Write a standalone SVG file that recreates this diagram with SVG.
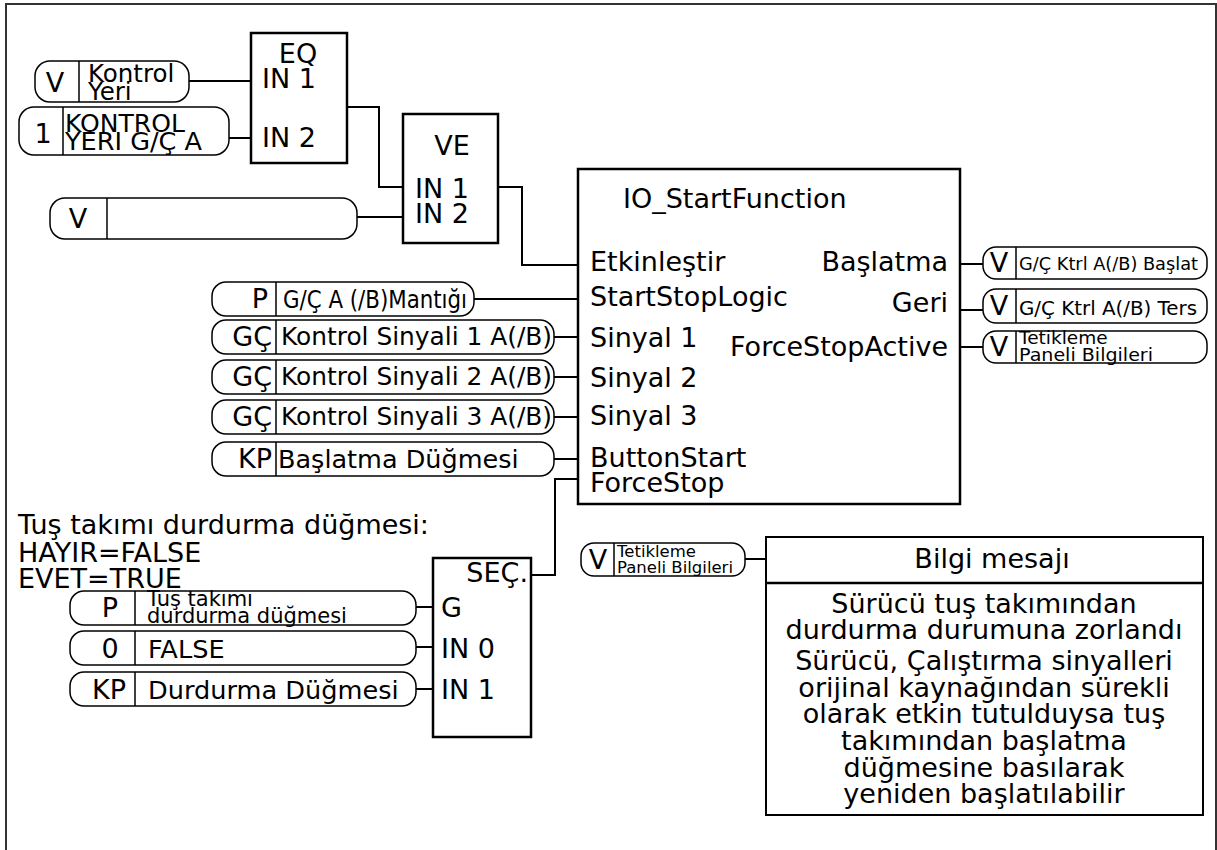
<svg xmlns="http://www.w3.org/2000/svg" width="1217" height="850" viewBox="0 0 1217 850">
<style>
text{font-family:"DejaVu Sans","Liberation Sans",sans-serif;fill:#000;}
.b{fill:#fff;stroke:#000;stroke-width:2.5;}
.p{fill:#fff;stroke:#000;stroke-width:1.5;}
.d{stroke:#000;stroke-width:1.5;}
.c{fill:none;stroke:#000;stroke-width:2;}
.L{font-size:27px;}
.M{font-size:25px;}
.T{font-size:16.5px;}
.m{text-anchor:middle;}
.e{text-anchor:end;}
</style>
<rect x="6" y="4" width="1210" height="870" fill="#fff" stroke="#333" stroke-width="2"/>

<g id="connectors">
<path class="c" d="M189,81 H251"/>
<path class="c" d="M229,138 H251"/>
<path class="c" d="M347,107 H379 V187 H403"/>
<path class="c" d="M357,217 H403"/>
<path class="c" d="M498,187 H522 V265 H578"/>
<path class="c" d="M474,299 H578"/>
<path class="c" d="M554,337 H578"/>
<path class="c" d="M554,377 H578"/>
<path class="c" d="M554,417 H578"/>
<path class="c" d="M554,459 H578"/>
<path class="c" d="M531,575 H555 V479 H578"/>
<path class="c" d="M416,607 H433"/>
<path class="c" d="M416,647 H433"/>
<path class="c" d="M416,689 H433"/>
<path class="c" d="M960,264 H983"/>
<path class="c" d="M960,310 H983"/>
<path class="c" d="M960,347 H983"/>
<path class="c" d="M745,559 H766"/>
</g>

<g id="src-kontrol-yeri">
<rect class="p" x="35" y="61" width="154" height="41" rx="15"/>
<line class="d" x1="79" y1="61" x2="79" y2="102"/>
<text class="L m" x="55" y="92">V</text>
<text style="font-size:24.5px" x="88" y="82">Kontrol</text>
<text style="font-size:24.5px" x="88" y="100">Yeri</text>
</g>

<g id="src-kontrol-yeri-gc-a">
<rect class="p" x="19" y="107" width="210" height="48" rx="15"/>
<line class="d" x1="63" y1="107" x2="63" y2="155"/>
<text class="L m" x="43" y="143">1</text>
<text class="M" x="65" y="132" textLength="120" lengthAdjust="spacingAndGlyphs">KONTROL</text>
<text class="M" x="65" y="150" textLength="137" lengthAdjust="spacingAndGlyphs">YERI G/Ç A</text>
</g>

<g id="eq">
<rect class="b" x="251" y="33" width="96" height="130"/>
<text class="L m" x="298" y="63">EQ</text>
<text class="L" x="262" y="88">IN 1</text>
<text class="L" x="262" y="147">IN 2</text>
</g>

<g id="src-v-empty">
<rect class="p" x="50" y="198" width="307" height="41" rx="15"/>
<line class="d" x1="107" y1="198" x2="107" y2="239"/>
<text class="L m" x="78" y="228">V</text>
</g>

<g id="ve">
<rect class="b" x="403" y="114" width="95" height="129"/>
<text class="L m" x="452" y="155">VE</text>
<text class="L" x="415" y="198">IN 1</text>
<text class="L" x="415" y="223">IN 2</text>
</g>

<g id="io-startfunction">
<rect class="b" x="578" y="169" width="382" height="335"/>
<text class="L" x="623" y="208">IO_StartFunction</text>
<text class="L" x="590" y="271">Etkinleştir</text>
<text class="L" x="590" y="306">StartStopLogic</text>
<text class="L" x="590" y="347">Sinyal 1</text>
<text class="L" x="590" y="387">Sinyal 2</text>
<text class="L" x="590" y="425">Sinyal 3</text>
<text class="L" x="590" y="467">ButtonStart</text>
<text class="L" x="590" y="492">ForceStop</text>
<text class="L e" x="948" y="271">Başlatma</text>
<text class="L e" x="948" y="312">Geri</text>
<text class="L e" x="948" y="356">ForceStopActive</text>
</g>

<g id="src-startstoplogic">
<rect class="p" x="212" y="282" width="262" height="34" rx="14"/>
<line class="d" x1="276" y1="282" x2="276" y2="316"/>
<text class="L e" x="268" y="308">P</text>
<text class="M" x="283" y="308" textLength="184" lengthAdjust="spacingAndGlyphs">G/Ç A (/B)Mantığı</text>
</g>

<g id="src-sinyal1">
<rect class="p" x="212" y="320" width="342" height="34" rx="14"/>
<line class="d" x1="276" y1="320" x2="276" y2="354"/>
<text class="L e" x="272" y="346">GÇ</text>
<text class="M" x="281" y="345" textLength="271" lengthAdjust="spacingAndGlyphs">Kontrol Sinyali 1 A(/B)</text>
</g>

<g id="src-sinyal2">
<rect class="p" x="212" y="360" width="342" height="34" rx="14"/>
<line class="d" x1="276" y1="360" x2="276" y2="394"/>
<text class="L e" x="272" y="386">GÇ</text>
<text class="M" x="281" y="385" textLength="271" lengthAdjust="spacingAndGlyphs">Kontrol Sinyali 2 A(/B)</text>
</g>

<g id="src-sinyal3">
<rect class="p" x="212" y="400" width="342" height="34" rx="14"/>
<line class="d" x1="276" y1="400" x2="276" y2="434"/>
<text class="L e" x="272" y="426">GÇ</text>
<text class="M" x="281" y="425" textLength="271" lengthAdjust="spacingAndGlyphs">Kontrol Sinyali 3 A(/B)</text>
</g>

<g id="src-buttonstart">
<rect class="p" x="212" y="442" width="342" height="34" rx="14"/>
<line class="d" x1="276" y1="442" x2="276" y2="476"/>
<text class="L e" x="272" y="468">KP</text>
<text style="font-size:25.5px" x="278" y="468">Başlatma Düğmesi</text>
</g>

<g id="out-baslat">
<rect class="p" x="983" y="247" width="224" height="32" rx="13"/>
<line class="d" x1="1016" y1="247" x2="1016" y2="279"/>
<text class="L m" x="999" y="272">V</text>
<text style="font-size:17.7px" x="1019" y="270" textLength="179" lengthAdjust="spacingAndGlyphs">G/Ç Ktrl A(/B) Başlat</text>
</g>

<g id="out-ters">
<rect class="p" x="983" y="289" width="224" height="34" rx="13"/>
<line class="d" x1="1016" y1="289" x2="1016" y2="323"/>
<text class="L m" x="999" y="315">V</text>
<text style="font-size:19.8px" x="1019" y="315" textLength="178" lengthAdjust="spacingAndGlyphs">G/Ç Ktrl A(/B) Ters</text>
</g>

<g id="out-tetikleme">
<rect class="p" x="983" y="331" width="224" height="32" rx="13"/>
<line class="d" x1="1016" y1="331" x2="1016" y2="363"/>
<text class="L m" x="999" y="356">V</text>
<text style="font-size:18.5px" x="1019" y="344">Tetikleme</text>
<text style="font-size:18.5px" x="1019" y="361" textLength="134" lengthAdjust="spacingAndGlyphs">Paneli Bilgileri</text>
</g>

<g id="note">
<text class="L" x="18" y="534">Tuş takımı durdurma düğmesi:</text>
<text class="L" x="18" y="562">HAYIR=FALSE</text>
<text class="L" x="18" y="588">EVET=TRUE</text>
</g>

<g id="sec">
<rect class="b" x="433" y="558" width="98" height="179"/>
<text class="L e" x="528" y="582">SEÇ.</text>
<text class="L" x="441" y="617">G</text>
<text class="L" x="441" y="658">IN 0</text>
<text class="L" x="441" y="699">IN 1</text>
</g>

<g id="src-sec-g">
<rect class="p" x="70" y="591" width="346" height="34" rx="14"/>
<line class="d" x1="135" y1="591" x2="135" y2="625"/>
<text class="L m" x="110" y="617">P</text>
<text style="font-size:21px" x="147" y="606">Tuş takımı</text>
<text style="font-size:21px" x="147" y="623">durdurma düğmesi</text>
</g>

<g id="src-sec-in0">
<rect class="p" x="70" y="631" width="346" height="34" rx="14"/>
<line class="d" x1="135" y1="631" x2="135" y2="665"/>
<text class="L m" x="110" y="658">0</text>
<text style="font-size:25.6px" x="148" y="658">FALSE</text>
</g>

<g id="src-sec-in1">
<rect class="p" x="70" y="672" width="346" height="34" rx="14"/>
<line class="d" x1="135" y1="672" x2="135" y2="706"/>
<text class="L m" x="109" y="699">KP</text>
<text style="font-size:25.6px" x="148" y="699">Durdurma Düğmesi</text>
</g>

<g id="src-info">
<rect class="p" x="581" y="543" width="164" height="33" rx="13"/>
<line class="d" x1="614" y1="543" x2="614" y2="576"/>
<text class="L m" x="598" y="569">V</text>
<text class="T" x="617" y="557">Tetikleme</text>
<text class="T" x="617" y="573">Paneli Bilgileri</text>
</g>

<g id="info-box">
<rect x="766" y="537" width="437" height="278" fill="#fff" stroke="#000" stroke-width="2"/>
<line x1="766" y1="583" x2="1203" y2="583" stroke="#000" stroke-width="2.5"/>
<text class="L m" x="992" y="568">Bilgi mesajı</text>
<text class="L m" x="984" y="613">Sürücü tuş takımından</text>
<text class="L m" x="984" y="639">durdurma durumuna zorlandı</text>
<text class="L m" x="984" y="670">Sürücü, Çalıştırma sinyalleri</text>
<text class="L m" x="984" y="697">orijinal kaynağından sürekli</text>
<text class="L m" x="984" y="723">olarak etkin tutulduysa tuş</text>
<text class="L m" x="984" y="750">takımından başlatma</text>
<text class="L m" x="984" y="777">düğmesine basılarak</text>
<text class="L m" x="984" y="803">yeniden başlatılabilir</text>
</g>
</svg>
